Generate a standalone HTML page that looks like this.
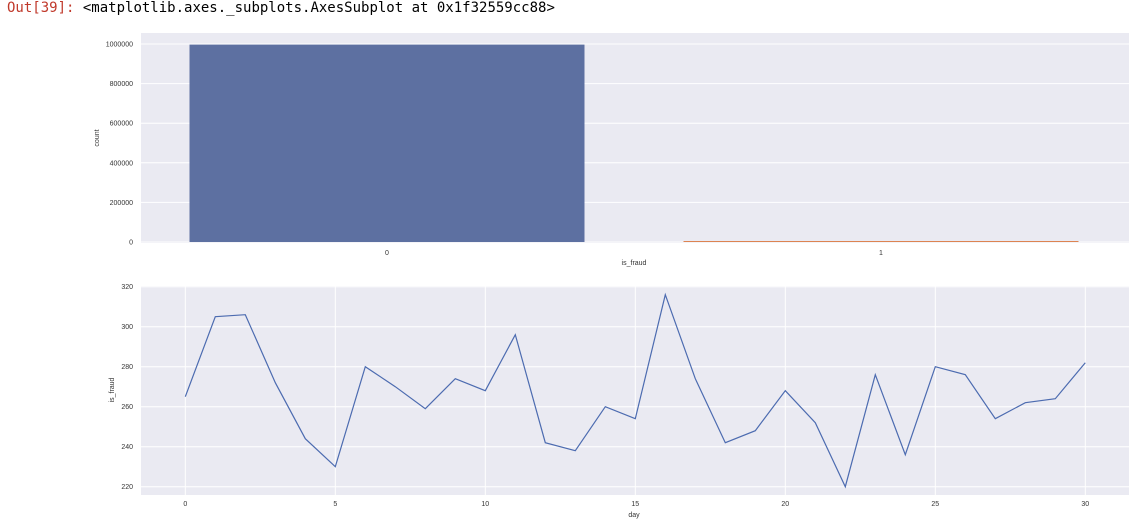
<!DOCTYPE html>
<html><head><meta charset="utf-8"><style>
body{margin:0;background:#fff;width:1141px;height:524px;overflow:hidden;font-family:"Liberation Sans",sans-serif}
.out{position:absolute;left:7px;top:0px;font-family:"DejaVu Sans Mono","Liberation Mono",monospace;font-size:14px;color:#000}
.out span{color:#c0392b}
</style></head><body>
<div class="out"><span>Out[39]:</span> &lt;matplotlib.axes._subplots.AxesSubplot at 0x1f32559cc88&gt;</div>
<svg id="c" width="1141" height="524" style="position:absolute;left:0;top:0"></svg>
<script>
const barCats=['0','1'];
const barVals=[997000,5000];
const barTicks=[0,200000,400000,600000,800000,1000000];
const days=[0,1,2,3,4,5,6,7,8,9,10,11,12,13,14,15,16,17,18,19,20,21,22,23,24,25,26,27,28,29,30];
const fraud=[265,305,306,272,244,230,280,270,259,274,268,296,242,238,260,254,316,274,242,248,268,252,220,276,236,280,276,254,262,264,282];
const lineYTicks=[220,240,260,280,300,320];
const lineXTicks=[0,5,10,15,20,25,30];
const NS='http://www.w3.org/2000/svg';
const svg=document.getElementById('c');
function el(t,a,p){const e=document.createElementNS(NS,t);for(const k in a)e.setAttribute(k,a[k]);(p||svg).appendChild(e);return e;}
function txt(x,y,s,anchor,size,rot){const e=el('text',{x:x,y:y,'font-size':size||7,fill:'#333','text-anchor':anchor||'middle','font-family':'Liberation Sans, sans-serif'});if(rot)e.setAttribute('transform','rotate(-90 '+x+' '+y+')');e.textContent=s;return e;}
const L=141,R=1129;
const g1=el('g',{});


const bg1=el('rect',{x:L,y:33,width:R-L,height:210,fill:'#eaeaf2'},g1);


const y1=v=>242-v/1000000*198;
const x1=i=>387+i*494;
barTicks.forEach(t=>{el('line',{x1:L,x2:R,y1:y1(t),y2:y1(t),stroke:'#fff','stroke-width':1},g1);
 const lb=txt(133,y1(t)+2.5,String(t),'end');
 
 });
const cols=['#5d70a1','#dd8452'];
barCats.forEach((c,i)=>{const h=Math.max(1,242-y1(barVals[i]));
 const b=el('rect',{x:x1(i)-197.5,y:242-h,width:395,height:h,fill:cols[i]},g1);
 
 
 const lb=txt(x1(i),255,c);
 
 });
const yt1=txt(99,138,'count','middle',7,true);


const xt1=txt(634,265,'is_fraud');


const g2=el('g',{});


const bg2=el('rect',{x:L,y:286,width:R-L,height:209,fill:'#eaeaf2'},g2);


const y2=v=>486.7-(v-220)*2;
const x2=d=>185.3+d*30;
lineYTicks.forEach(t=>{el('line',{x1:L,x2:R,y1:y2(t),y2:y2(t),stroke:'#fff','stroke-width':1},g2);
 const lb=txt(133,y2(t)+2.5,String(t),'end');
 
 });
lineXTicks.forEach(t=>{el('line',{x1:x2(t),x2:x2(t),y1:286,y2:495,stroke:'#fff','stroke-width':1},g2);
 const lb=txt(x2(t),506,String(t));
 
 });
const pl=el('polyline',{points:days.map((d,i)=>x2(d)+','+y2(fraud[i])).join(' '),fill:'none',stroke:'#4c6bb0','stroke-width':1.2},g2);


const yt2=txt(114,390,'is_fraud','middle',7,true);


const xt2=txt(634,517,'day');


</script>
</body></html>
